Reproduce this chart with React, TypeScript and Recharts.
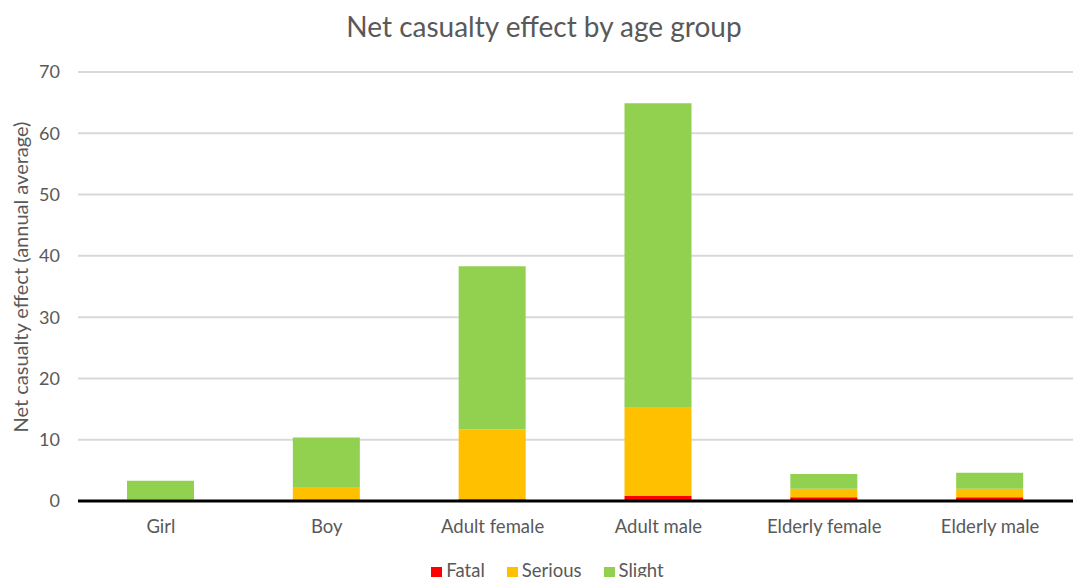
import {
  Bar,
  BarChart,
  CartesianGrid,
  Legend,
  ReferenceLine,
  XAxis,
  YAxis,
} from "recharts";

const groups = ["Girl", "Boy", "Adult female", "Adult male", "Elderly female", "Elderly male"];
const fatal = [0.05, 0.05, 0.3, 0.8, 0.6, 0.6];
const serious = [0.2, 2.1, 11.4, 14.4, 1.4, 1.4];
const slight = [3.05, 8.2, 26.6, 49.7, 2.4, 2.6];
const yTicks = [0, 10, 20, 30, 40, 50, 60, 70];

const data = groups.map((g, i) => ({
  name: g,
  fatal: fatal[i],
  serious: serious[i],
  slight: slight[i],
}));

const FONT = "Lato, 'Open Sans', sans-serif";
const GREY = "#595959";

export default function App() {
  return (
    <div style={{ position: "absolute", left: 0, top: 0, width: 1073, height: 577, overflow: "hidden", fontFamily: FONT }}>
      <div
        style={{
          position: "absolute",
          top: 9,
          left: 0,
          width: 1088,
          textAlign: "center",
          fontSize: 28,
          color: GREY,
        }}
      >
        Net casualty effect by age group
      </div>
      {/* rotated y-axis title */}
      <div
        style={{
          position: "absolute",
          left: 20,
          top: 277,
          transform: "translate(-50%, -50%) rotate(-90deg)",
          whiteSpace: "nowrap",
          fontSize: 20,
          color: GREY,
        }}
      >
        Net casualty effect (annual average)
      </div>
      <BarChart
        width={1073}
        height={577}
        data={data}
        margin={{ top: 72, right: 0, left: 0, bottom: 24 }}
        barSize={67}
      >
        <CartesianGrid vertical={false} stroke="#d9d9d9" strokeWidth={2} />
        <XAxis
          dataKey="name"
          axisLine={false}
          tickLine={false}
          tickMargin={13}
          tick={{ fill: GREY, fontSize: 18.5, fontFamily: FONT }}
        />
        <YAxis
          width={78}
          domain={[0, 70]}
          ticks={yTicks}
          axisLine={false}
          tickLine={false}
          tickMargin={12}
          tick={{ fill: GREY, fontSize: 18, fontFamily: FONT }}
        />
        <Legend
          verticalAlign="bottom"
          iconType="square"
          iconSize={11}
          wrapperStyle={{ top: 559, left: 22, fontSize: 18.5, color: GREY, fontFamily: FONT }}
          formatter={(v) => <span style={{ color: GREY, marginRight: 12 }}>{v}</span>}
        />
        <Bar dataKey="fatal" name="Fatal" stackId="a" fill="#ff0000" isAnimationActive={false} />
        <Bar dataKey="serious" name="Serious" stackId="a" fill="#ffc000" isAnimationActive={false} />
        <Bar dataKey="slight" name="Slight" stackId="a" fill="#92d050" isAnimationActive={false} />
        <ReferenceLine y={0} stroke="#000000" strokeWidth={3} />
      </BarChart>
    </div>
  );
}
